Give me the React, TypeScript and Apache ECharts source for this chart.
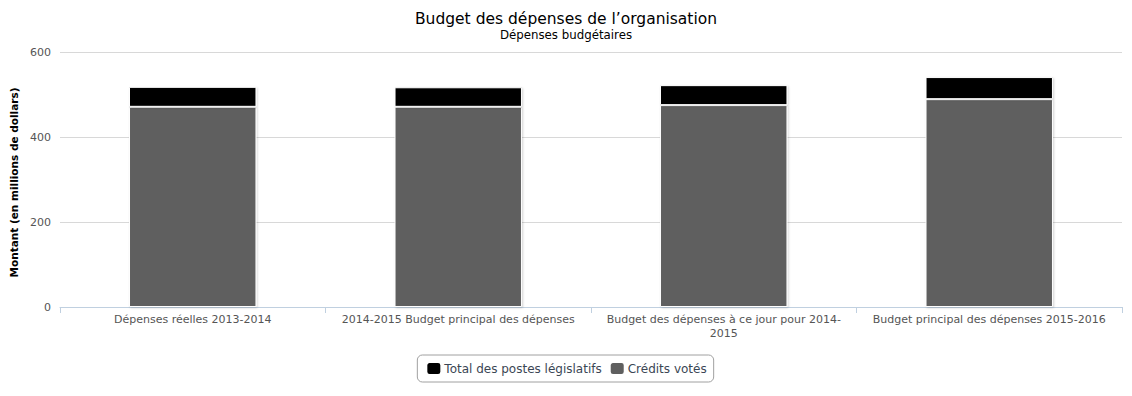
import React, { useEffect, useRef } from "react";
import * as echarts from "echarts";

const categories = [
  "Dépenses réelles 2013-2014",
  "2014-2015 Budget principal des dépenses",
  "Budget des dépenses à ce jour pour 2014-2015",
  "Budget principal des dépenses 2015-2016",
];
const creditsVotes = [471, 471, 475, 489];
const postesLegislatifs = [47, 46, 47, 52];
const yTicks = { min: 0, max: 600, interval: 200 };

const FONT = "DejaVu Sans";

export default function App() {
  const ref = useRef<HTMLDivElement>(null);
  useEffect(() => {
    document.body.style.margin = "0";
    if (!ref.current) return;
    const chart = echarts.init(ref.current, undefined, { renderer: "svg" });
    const shadow = {
      shadowColor: "rgba(0,0,0,0.18)",
      shadowBlur: 2,
      shadowOffsetX: 1,
      shadowOffsetY: 1,
    };
    chart.setOption({
      animation: false,
      textStyle: { fontFamily: FONT },
      title: {
        text: "Budget des dépenses de l’organisation",
        subtext: "Dépenses budgétaires",
        left: "center",
        top: 6,
        itemGap: 2,
        textStyle: { fontFamily: FONT, fontSize: 15.5, fontWeight: "normal", color: "#000" },
        subtextStyle: { fontFamily: FONT, fontSize: 11.8, color: "#000" },
      },
      legend: {
        data: ["Total des postes législatifs", "Crédits votés"],
        left: "center",
        top: 355,
        itemWidth: 15,
        itemHeight: 13,
        itemGap: 7,
        borderColor: "#a0a0a0",
        borderWidth: 1,
        borderRadius: 5,
        padding: [6, 7, 6, 8],
        icon: "roundRect",
        textStyle: { fontFamily: FONT, fontSize: 12, color: "#3b4654", padding: [0, 0, 0, -2] },
      },
      grid: { left: 60, right: 10, top: 52, bottom: 89 },
      xAxis: {
        type: "category",
        data: categories,
        axisLine: { lineStyle: { color: "#c0d0e0" } },
        axisTick: { show: true, length: 6, lineStyle: { color: "#c0d0e0" } },
        axisLabel: {
          interval: 0,
          fontFamily: FONT,
          fontSize: 11,
          color: "#555",
          margin: 5,
          lineHeight: 14,
          formatter: (v: string) =>
            v === categories[2] ? "Budget des dépenses à ce jour pour 2014-\n2015" : v,
        },
      },
      yAxis: {
        type: "value",
        min: yTicks.min,
        max: yTicks.max,
        interval: yTicks.interval,
        name: "Montant (en millions de dollars)",
        nameLocation: "middle",
        nameGap: 35,
        nameTextStyle: {
          fontFamily: FONT,
          fontSize: 10.5,
          fontWeight: "bold",
          color: "#000",
          padding: [0, 0, 0, -6],
        },
        axisLine: { show: false },
        axisTick: { show: false },
        axisLabel: { fontFamily: FONT, fontSize: 11, color: "#555", margin: 9 },
        splitLine: { lineStyle: { color: "#d8d8d8" } },
      },
      series: [
        {
          name: "Crédits votés",
          type: "bar",
          stack: "total",
          barWidth: "48%",
          data: creditsVotes,
          itemStyle: { color: "#5f5f5f", borderColor: "#fff", borderWidth: 1, ...shadow },
        },
        {
          name: "Total des postes législatifs",
          type: "bar",
          stack: "total",
          barWidth: "48%",
          data: postesLegislatifs,
          itemStyle: { color: "#000", borderColor: "#fff", borderWidth: 1, ...shadow },
        },
      ],
    });
    return () => chart.dispose();
  }, []);
  return <div ref={ref} style={{ width: 1132, height: 396 }} />;
}
